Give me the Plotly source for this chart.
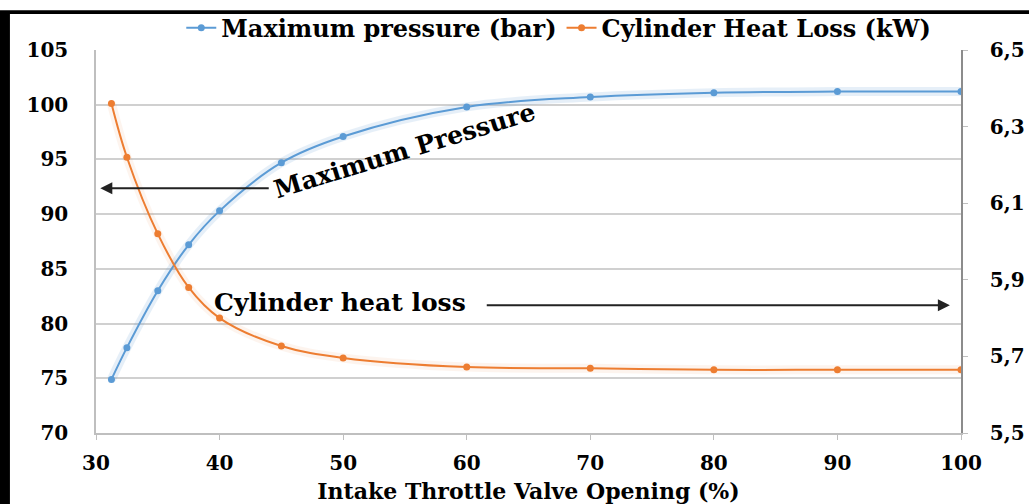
import plotly.graph_objects as go

# ---- data ----
opening = [31.25, 32.5, 35, 37.5, 40, 45, 50, 60, 70, 80, 90, 100]
max_pressure = [74.9, 77.8, 83.0, 87.2, 90.3, 94.7, 97.1, 99.8, 100.7, 101.1, 101.2, 101.2]
heat_loss = [6.36, 6.22, 6.02, 5.88, 5.80, 5.727, 5.696, 5.672, 5.669, 5.665, 5.665, 5.665]

x_ticks = [30, 40, 50, 60, 70, 80, 90, 100]
left_ticks = [70, 75, 80, 85, 90, 95, 100, 105]
right_ticks = [5.5, 5.7, 5.9, 6.1, 6.3, 6.5]

BLUE = "#5B9BD5"
ORANGE = "#ED7D31"
FONT = "DejaVu Serif"

fig = go.Figure()

# soft glow under the lines
fig.add_trace(go.Scatter(x=opening, y=max_pressure, mode="lines", line=dict(color=BLUE, width=9, shape="spline"),
                         opacity=0.15, showlegend=False, hoverinfo="skip"))
fig.add_trace(go.Scatter(x=opening, y=heat_loss, mode="lines", line=dict(color=ORANGE, width=9, shape="spline"),
                         opacity=0.08, showlegend=False, hoverinfo="skip", yaxis="y2"))

fig.add_trace(go.Scatter(x=opening, y=max_pressure, mode="lines+markers", name="Maximum pressure (bar)",
                         line=dict(color=BLUE, width=2, shape="spline"),
                         marker=dict(color=BLUE, size=7)))
fig.add_trace(go.Scatter(x=opening, y=heat_loss, mode="lines+markers", name="Cylinder Heat Loss (kW)",
                         line=dict(color=ORANGE, width=2, shape="spline"),
                         marker=dict(color=ORANGE, size=7), yaxis="y2"))

tickfont = dict(family=FONT, size=20, color="black", weight="bold")

fig.update_layout(
    width=1029, height=504,
    margin=dict(l=96, r=68, t=50, b=71, autoexpand=False),
    paper_bgcolor="white", plot_bgcolor="white",
    separators=", ",
    showlegend=True,
    legend=dict(orientation="h", x=0.535, xanchor="center", y=1.057, yanchor="middle",
                font=dict(family=FONT, size=24, color="black", weight="bold"),
                bgcolor="rgba(0,0,0,0)", itemwidth=30, tracegroupgap=0),
    xaxis=dict(range=[30, 100], tickvals=x_ticks, tickfont=tickfont, showgrid=False,
               showline=True, linecolor="#bfbfbf", linewidth=1.5, ticks="outside", ticklen=5,
               tickcolor="#bfbfbf", ticklabelstandoff=6, automargin=False, zeroline=False,
               title=dict(text="Intake Throttle Valve Opening (%)",
                          font=dict(family=FONT, size=22, color="black", weight="bold"), standoff=10)),
    yaxis=dict(range=[70, 105], tickvals=left_ticks, tickfont=tickfont, showgrid=True,
               gridcolor="#d0d0d0", gridwidth=1.5, showline=True, linecolor="#bfbfbf", linewidth=1.5,
               ticks="", ticklabelstandoff=22, automargin=False, zeroline=False),
    yaxis2=dict(range=[5.5, 6.5], tickvals=right_ticks, tickformat=".1f", tickfont=tickfont,
                overlaying="y", side="right", showgrid=False, showline=True, linecolor="#8c8c8c",
                linewidth=1.5, ticks="outside", ticklen=5, tickcolor="#bfbfbf",
                ticklabelstandoff=18, automargin=False, zeroline=False),
)

# frame of the original picture (left bar and top rule)
fig.add_shape(type="rect", xref="paper", yref="paper", x0=-0.125, x1=-0.0995, y0=-0.2, y1=1.102,
              fillcolor="black", line=dict(width=0), layer="above")
fig.add_shape(type="rect", xref="paper", yref="paper", x0=-0.125, x1=1.1, y0=1.094, y1=1.104,
              fillcolor="black", line=dict(width=0), layer="above")

annfont = dict(family=FONT, color="black", weight="bold")
fig.add_annotation(x=55.0, y=95.8, xref="x", yref="y", text="Maximum Pressure", showarrow=False,
                   textangle=-17, font=dict(size=25, **annfont))
fig.add_annotation(x=49.74, y=81.95, xref="x", yref="y", text="Cylinder heat loss", showarrow=False,
                   font=dict(size=25, **annfont))
# arrows
fig.add_annotation(x=30.35, y=92.36, ax=44.1, ay=92.36, xref="x", yref="y", axref="x", ayref="y",
                   text="", showarrow=True, arrowhead=2, arrowsize=1.2, arrowwidth=2, arrowcolor="#222")
fig.add_annotation(x=99.1, y=81.68, ax=61.5, ay=81.68, xref="x", yref="y", axref="x", ayref="y",
                   text="", showarrow=True, arrowhead=2, arrowsize=1.2, arrowwidth=2, arrowcolor="#222")

fig.write_html("out.html",
               config={"displayModeBar": False},
               post_script="document.body.style.margin='0';document.body.style.padding='0';"
                           "document.body.style.overflow='hidden';"
                           "document.body.style.fontSize='0';document.body.style.lineHeight='0';")
